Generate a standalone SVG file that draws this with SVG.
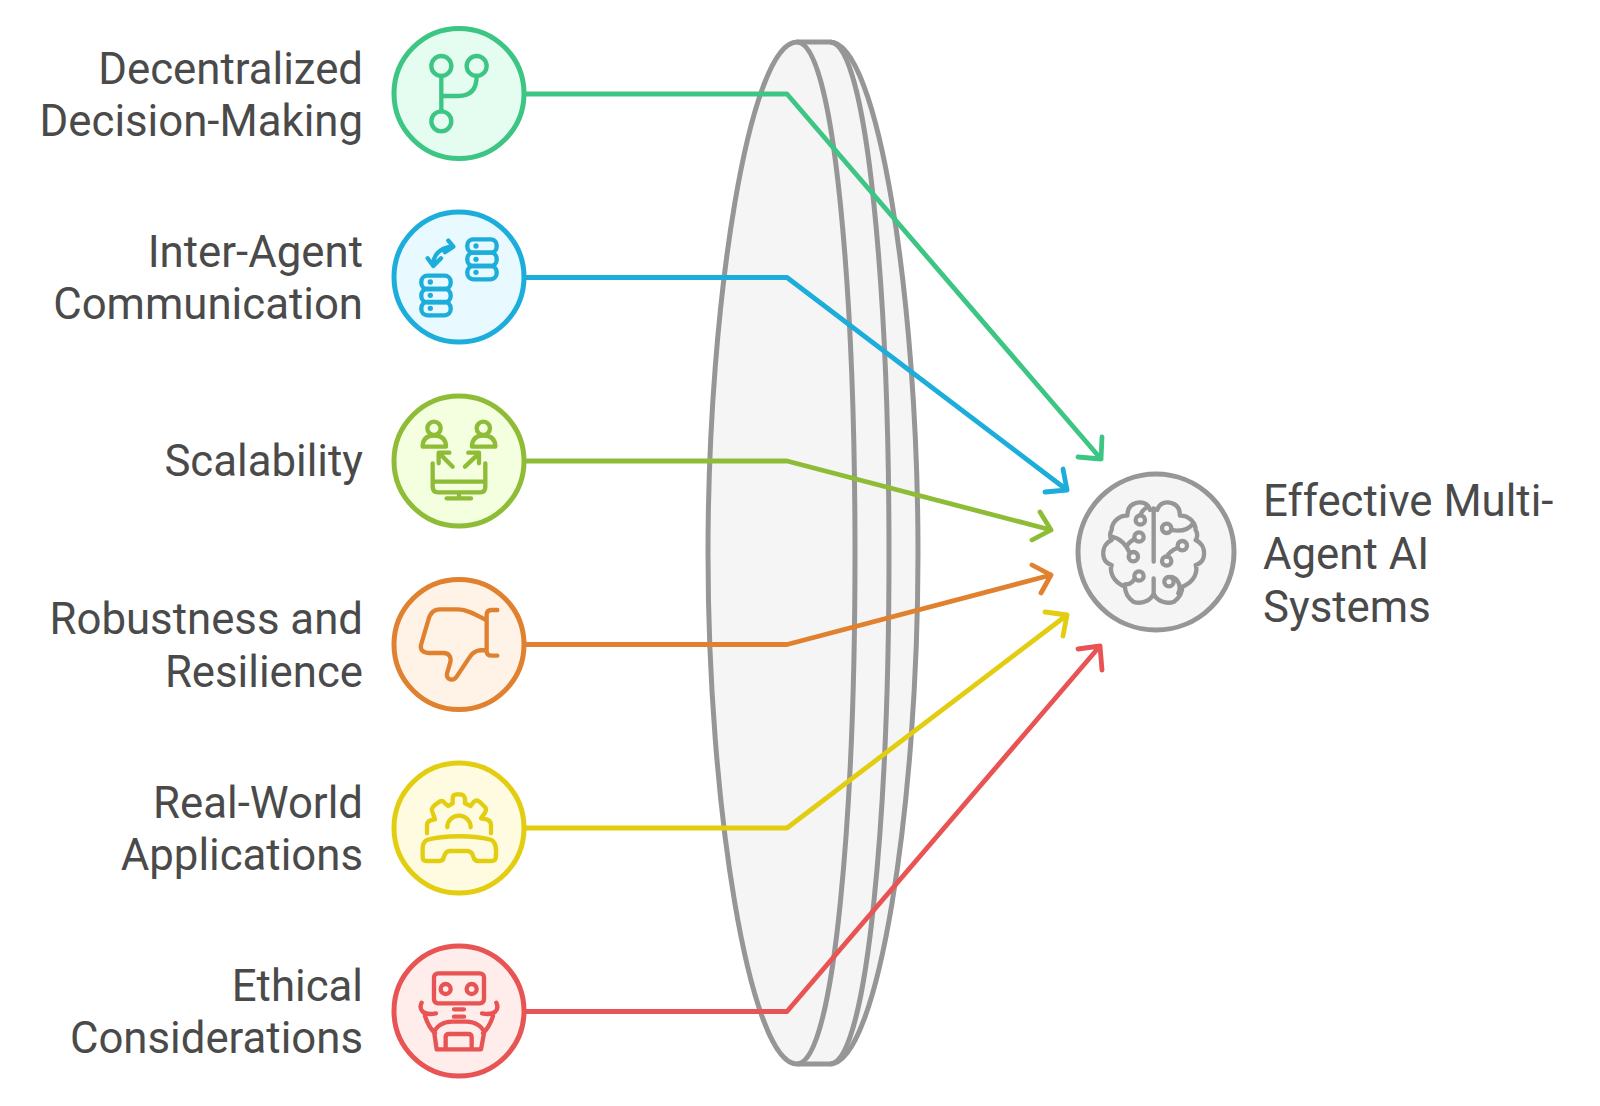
<svg xmlns="http://www.w3.org/2000/svg" width="1600" height="1106" viewBox="0 0 1600 1106">
<style>
text{font-family:Roboto,"Liberation Sans",sans-serif;font-size:43.75px;fill:#4a4a4a}
.l{text-anchor:end}
.c{stroke-width:5}
.i{fill:none;stroke-width:13;stroke-linecap:round;stroke-linejoin:round;}
.w{fill:none;stroke-width:4.8;stroke-linecap:round;stroke-linejoin:round}
.lens{stroke:#969696;stroke-width:5;fill:#f5f5f5;stroke-linejoin:round}
.g{stroke:#3cc583}.b{stroke:#1cadda}.y{stroke:#8fbc37}.o{stroke:#e0812f}.e{stroke:#e2cd10}.r{stroke:#e85353}.k{stroke:#969696}
</style>
<rect width="1600" height="1106" fill="#fff"/>
<g id="lens">
<path class="lens" d="M797,42H830C878,42 918,300 918,553C918,806 878,1064 830,1064H797C750,1064 708,806 708,553C708,300 750,42 797,42Z"/>
<path class="lens" style="fill:none" d="M830,42C868,42 889,300 889,553C889,806 868,1064 830,1064"/>
<path class="lens" style="fill:none" d="M797,42C835,42 855,300 855,553C855,806 835,1064 797,1064"/>
</g>
<g id="connectors" class="w">
<path class="w g" d="M525,94H787L1101,459M1102,437L1101,459L1078,457"/>
<path class="w b" d="M525,277.500H787L1067,490M1063,469L1067,490L1045,492"/>
<path class="w y" d="M525,461H787L1051,530M1040,512L1051,530L1032,540"/>
<path class="w o" d="M525,644.500H787L1051,575M1032,565L1051,575L1041,593"/>
<path class="w e" d="M525,828H787L1067,615M1045,612L1067,615L1063,636"/>
<path class="w r" d="M525,1011.500H787L1100,646M1078,649L1100,646L1102,670"/>
</g>
<g id="n1">
<circle class="c g" cx="459" cy="93.500" r="65" fill="#e5fdf1"/>
<g class="i g" transform="translate(380,20) scale(.3333)"><circle cx="184" cy="138" r="30"/><circle cx="290" cy="138" r="30"/><circle cx="184" cy="304" r="30"/><path d="M184,168V274M184,228H235Q290,228 290,168"/></g>
<text class="l" x="363" y="84">Decentralized</text><text class="l" x="363" y="136">Decision-Making</text>
</g>
<g id="n2">
<circle class="c b" cx="459" cy="277" r="65" fill="#e8f9ff"/>
<g class="i b" transform="translate(380,200) scale(.3333)"><rect x="262" y="118" width="88" height="40" rx="18"/><rect x="262" y="158" width="88" height="40" rx="18"/><rect x="262" y="198" width="88" height="40" rx="18"/><rect x="124" y="227" width="88" height="40" rx="18"/><rect x="124" y="267" width="88" height="40" rx="18"/><rect x="124" y="306" width="88" height="40" rx="18"/><path d="M160,192C160,165 180,145 212,140M143,175L160,198L183,175M205,122L220,140L195,157"/><g stroke="none" style="fill:#1cadda"><circle cx="288" cy="138" r="8"/><circle cx="288" cy="178" r="8"/><circle cx="288" cy="217" r="8"/><circle cx="151" cy="246" r="8"/><circle cx="151" cy="286" r="8"/><circle cx="151" cy="325" r="8"/></g></g>
<text class="l" x="363" y="267">Inter-Agent</text><text class="l" x="363" y="319">Communication</text>
</g>
<g id="n3">
<circle class="c y" cx="459" cy="461" r="65" fill="#f3ffdf"/>
<g class="i y" transform="translate(380,385) scale(.3333)"><circle cx="162" cy="130" r="20"/><circle cx="310" cy="130" r="20"/><path d="M128,185Q128,152 162,152Q198,152 198,185ZM276,185Q276,152 310,152Q346,152 346,185ZM218,245L178,205M176,235V203H208M255,245L297,205M265,203H297V235M158,235V305Q158,322 175,322H300Q316,322 316,305V235M158,290H316M237,322V340M200,340H273"/></g>
<text class="l" x="363" y="476">Scalability</text>
</g>
<g id="n4">
<circle class="c o" cx="459" cy="644.500" r="65" fill="#fff2e6"/>
<g class="i o" transform="translate(380,565) scale(.3333)"><path d="M318,165C290,150 262,133 235,133H180C160,133 150,145 145,165L123,240C120,255 130,264 145,264H190C210,264 215,280 210,295L201,325C198,345 220,350 230,335L270,275C280,258 295,255 320,255M352,135H335Q320,135 320,150V258Q320,272 335,272H352"/></g>
<text class="l" x="363" y="634">Robustness and</text><text class="l" x="363" y="686.500">Resilience</text>
</g>
<g id="n5">
<circle class="c e" cx="459" cy="828" r="65" fill="#fffbe0"/>
<g class="i e" transform="translate(380,750) scale(.3333)"><path d="M141,250V225Q141,210 165,208L157,185Q152,175 165,165L178,155Q188,150 195,160L205,168L218,160V145Q218,133 230,133H240Q252,133 255,145V160L272,168L282,155Q290,148 298,155L312,168Q322,175 315,188L303,205L320,208Q333,212 333,225V250M202,232A35,35 0 0 1 272,232M140,270C190,255 285,255 335,270C350,280 350,300 347,325Q345,333 335,333H295Q283,333 280,320Q275,303 262,303H210Q197,303 192,320Q190,333 178,333H140Q128,333 128,320V295Q128,278 140,270Z"/></g>
<text class="l" x="363" y="818">Real-World</text><text class="l" x="363" y="870">Applications</text>
</g>
<g id="n6">
<circle class="c r" cx="459" cy="1011" r="65" fill="#ffedeb"/>
<g class="i r" transform="translate(380,930) scale(.3333)"><rect x="162" y="130" width="150" height="90" rx="12"/><circle cx="197" cy="177" r="15"/><circle cx="275" cy="177" r="15"/><path d="M222,238H252M222,260H252M170,358L163,310C165,290 190,275 215,275H260C285,275 310,290 312,310L303,358ZM197,355V322Q197,312 207,312H265Q275,312 275,322V355M125,218C115,240 130,258 168,250M349,218C359,240 344,258 306,250M135,258C142,280 150,295 165,310M339,258C332,280 324,295 309,310"/></g>
<text class="l" x="363" y="1001">Ethical</text><text class="l" x="363" y="1053">Considerations</text>
</g>
<g id="target">
<circle class="c k" cx="1156" cy="552" r="78" fill="#f5f5f5"/>
<g class="i k" transform="translate(1070,465) scale(.3333)"><path d="M240,135C235,115 215,108 195,115C178,120 172,135 172,152C150,150 125,170 125,195C118,205 120,220 125,225C105,235 95,255 102,280C108,295 125,300 125,300C118,320 128,350 165,365C165,380 170,395 190,410C215,420 245,405 251,385C257,405 287,420 312,410C332,395 337,380 337,365C374,350 384,320 377,300C377,300 394,295 400,280C407,255 397,235 377,225C382,220 384,205 377,195C377,170 352,150 330,152C330,135 324,120 307,115C287,108 267,115 262,135M251,130V290M251,340V385"/>
<circle cx="211" cy="165" r="14"/><circle cx="207" cy="216" r="14"/><circle cx="190" cy="275" r="14"/><circle cx="207" cy="333" r="14"/><circle cx="290" cy="190" r="14"/><circle cx="337" cy="242" r="14"/><circle cx="290" cy="288" r="14"/><circle cx="297" cy="350" r="14"/>
<path d="M211,151C215,135 225,130 235,125M194,222Q175,232 170,245M125,215C150,220 170,240 178,262M195,340C185,358 175,358 165,358M304,195C330,200 355,195 370,175M324,248C305,255 295,265 291,275M304,336C325,340 335,365 325,385"/></g>
<text x="1263" y="516">Effective Multi-</text><text x="1263" y="569">Agent AI</text><text x="1263" y="621.500">Systems</text>
</g>
</svg>
